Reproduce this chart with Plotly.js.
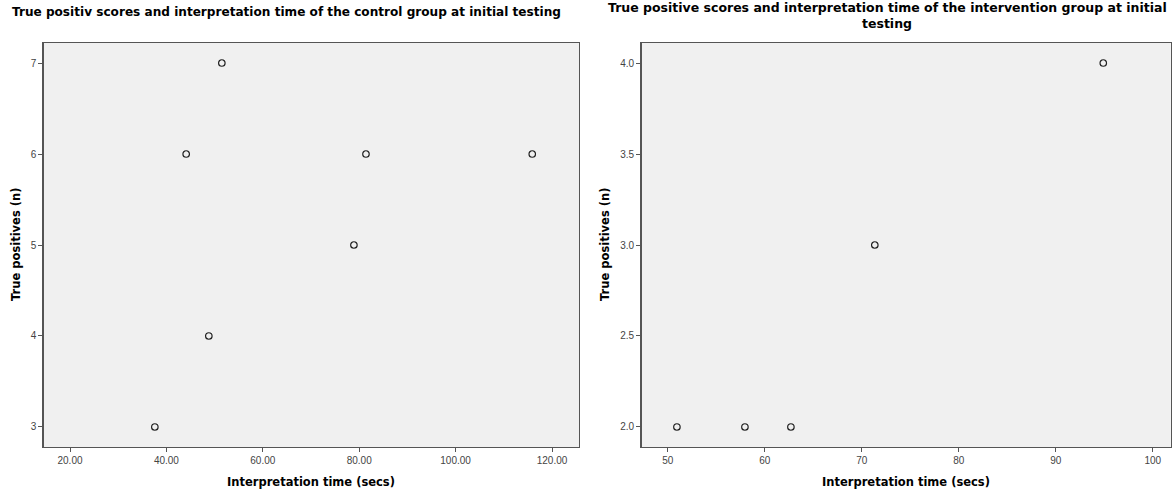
<!DOCTYPE html>
<html><head><meta charset="utf-8">
<script src="https://cdn.plot.ly/plotly-3.0.1.min.js"></script>
<style>html,body{margin:0;padding:0;background:#fff}</style>
</head><body><div id="chart" style="width:1176px;height:496px"></div>
<script>
const controlTime = [37.6, 44.1, 48.8, 51.5, 78.9, 81.4, 115.9];
const controlTP = [3, 6, 4, 7, 5, 6, 6];
const interventionTime = [50.95, 57.96, 62.7, 71.35, 94.9];
const interventionTP = [2, 2, 2, 3, 4];
const leftTitle = 'True positiv scores and interpretation time of the control group at initial testing';
const rightTitle1 = 'True positive scores and interpretation time of the intervention group at initial';
const rightTitle2 = 'testing';
const xTitle = 'Interpretation time (secs)';
const yTitle = 'True positives (n)';
const leftXTicks = [20, 40, 60, 80, 100, 120];
const leftYTicks = [3, 4, 5, 6, 7];
const rightXTicks = [50, 60, 70, 80, 90, 100];
const rightYTicks = [2.0, 2.5, 3.0, 3.5, 4.0];

const marker = {symbol: 'circle-open', size: 6.5, color: '#222', line: {width: 1.2, color: '#222'}};
const traces = [
  {x: controlTime, y: controlTP, type: 'scatter', mode: 'markers', marker: marker, xaxis: 'x', yaxis: 'y', hoverinfo: 'x+y'},
  {x: interventionTime, y: interventionTP, type: 'scatter', mode: 'markers', marker: marker, xaxis: 'x2', yaxis: 'y2', hoverinfo: 'x+y'}
];
const axBase = {showgrid: false, zeroline: false, showline: true, mirror: true, linecolor: '#555', linewidth: 1.3,
  ticks: 'outside', ticklen: 4, tickcolor: '#555', tickfont: {family: 'Liberation Sans, Arial, sans-serif', size: 10, color: '#444'}};
const yd = [1 - 447/496, 1 - 43/496];
const tFont = {family: 'DejaVu Sans, sans-serif', size: 12.5, color: '#000'};
const aFont = {family: 'DejaVu Sans, sans-serif', size: 11.5, color: '#000'};
function ann(text, x, y, extra) {
  return Object.assign({text: '<b>' + text + '</b>', xref: 'paper', yref: 'paper', x: x/1176, y: 1 - y/496,
    xanchor: 'center', yanchor: 'middle', showarrow: false, font: tFont}, extra || {});
}
const layout = {
  width: 1176, height: 496, margin: {l: 0, r: 0, t: 0, b: 0},
  paper_bgcolor: '#fff', plot_bgcolor: '#f0f0f0', showlegend: false,
  xaxis: Object.assign({}, axBase, {domain: [43.5/1176, 579/1176], range: [14.5, 125.6], tickvals: leftXTicks, ticktext: leftXTicks.map(v => v.toFixed(2)), anchor: 'y'}),
  yaxis: Object.assign({}, axBase, {domain: yd, range: [2.78, 7.22], tickvals: leftYTicks, anchor: 'x'}),
  xaxis2: Object.assign({}, axBase, {domain: [641.5/1176, 1170.8/1176], range: [47.3, 101.86], tickvals: rightXTicks, anchor: 'y2'}),
  yaxis2: Object.assign({}, axBase, {domain: yd, range: [1.89, 4.11], tickvals: rightYTicks, ticktext: rightYTicks.map(v => v.toFixed(1)), anchor: 'x2'}),
  annotations: [
    ann(leftTitle, 286, 12, {font: Object.assign({}, tFont, {size: 12.1})}),
    ann(rightTitle1, 887, 7.5),
    ann(rightTitle2, 887, 23.5),
    ann(xTitle, 311, 482, {font: aFont}),
    ann(xTitle, 906, 482, {font: aFont}),
    ann(yTitle, 16, 245, {font: aFont, textangle: -90}),
    ann(yTitle, 605, 245, {font: aFont, textangle: -90})
  ]
};
Plotly.newPlot('chart', traces, layout, {displayModeBar: false, staticPlot: true});
</script></body></html>
